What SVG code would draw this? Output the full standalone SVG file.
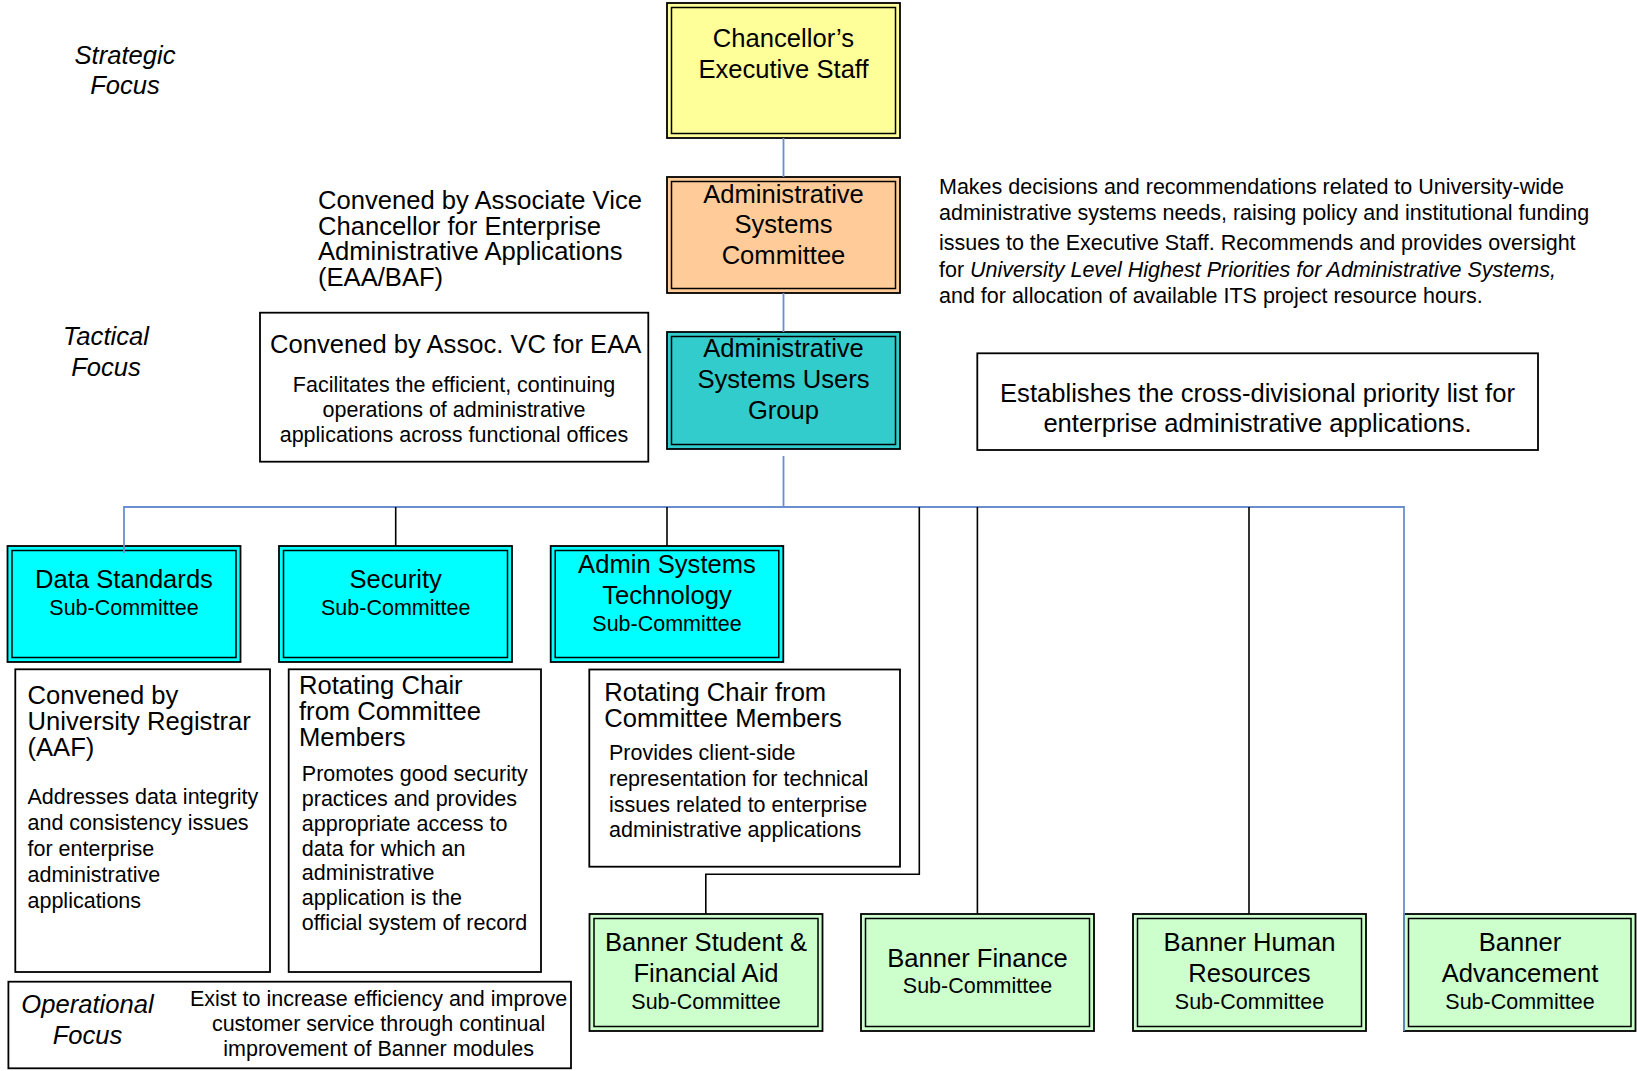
<svg xmlns="http://www.w3.org/2000/svg" width="1637" height="1071" viewBox="0 0 1637 1071">
<style>
.bx{stroke:#000;stroke-width:1.8}
.in{fill:none;stroke:#000;stroke-width:1.5}
.desc{fill:#fff;stroke:#000;stroke-width:1.8}
text{font-family:"Liberation Sans",Arial,sans-serif;fill:#000}
.b{font-size:25.6px}
.s{font-size:21.5px}
.c{text-anchor:middle}
.i{font-style:italic}
.blue{stroke:#6B8FCE;stroke-width:1.8;fill:none}
.blk{stroke:#000;stroke-width:1.6;fill:none}
.yel{fill:#FFFF99}.org{fill:#FFCC99}.teal{fill:#33CCCC}.cyan{fill:#00FFFF}.grn{fill:#CCFFCC}
</style>
<rect width="1637" height="1071" fill="#fff"/>

<g id="label-strategic">
<text class="b i c" x="125" y="63.5">Strategic</text>
<text class="b i c" x="125" y="94">Focus</text>
</g>
<g id="label-tactical">
<text class="b i c" x="106" y="345">Tactical</text>
<text class="b i c" x="106" y="375.5">Focus</text>
</g>

<g id="chancellor">
<rect class="bx yel" x="667" y="3" width="233" height="135"/>
<rect class="in" x="671.5" y="7.5" width="224" height="126"/>
<text class="b c" x="783.5" y="46.7">Chancellor’s</text>
<text class="b c" x="783.5" y="78">Executive Staff</text>
</g>

<g id="asc">
<rect class="bx org" x="667" y="177" width="233" height="116"/>
<rect class="in" x="671.5" y="181.5" width="224" height="107"/>
<text class="b c" x="783.5" y="202.5">Administrative</text>
<text class="b c" x="783.5" y="233">Systems</text>
<text class="b c" x="783.5" y="264">Committee</text>
</g>

<g id="asc-note">
<text class="b" x="318" y="209">Convened by Associate Vice</text>
<text class="b" x="318" y="234.5">Chancellor for Enterprise</text>
<text class="b" x="318" y="260">Administrative Applications</text>
<text class="b" x="318" y="285.5">(EAA/BAF)</text>
</g>

<g id="asc-desc">
<text class="s" x="939" y="194">Makes decisions and recommendations related to University-wide</text>
<text class="s" x="939" y="220">administrative systems needs, raising policy and institutional funding</text>
<text class="s" x="939" y="249.5">issues to the Executive Staff. Recommends and provides oversight</text>
<text class="s" x="939" y="276.7">for <tspan class="i">University Level Highest Priorities for Administrative Systems,</tspan></text>
<text class="s" x="939" y="302.5">and for allocation of available ITS project resource hours.</text>
</g>

<g id="users-group">
<rect class="bx teal" x="667" y="332" width="233" height="117"/>
<rect class="in" x="671.5" y="336.5" width="224" height="108"/>
<text class="b c" x="783.5" y="357">Administrative</text>
<text class="b c" x="783.5" y="388">Systems Users</text>
<text class="b c" x="783.5" y="418.5">Group</text>
</g>

<g id="users-note">
<rect class="desc" x="260" y="312.7" width="388.3" height="149"/>
<text class="b" x="270" y="353">Convened by Assoc. VC for EAA</text>
<text class="s c" x="454" y="391.5">Facilitates the efficient, continuing</text>
<text class="s c" x="454" y="416.5">operations of administrative</text>
<text class="s c" x="454" y="442">applications across functional offices</text>
</g>

<g id="users-desc">
<rect class="desc" x="977.3" y="353.3" width="560.7" height="96.7"/>
<text class="b c" x="1257.5" y="402">Establishes the cross-divisional priority list for</text>
<text class="b c" x="1257.5" y="432">enterprise administrative applications.</text>
</g>

<g id="data-standards">
<rect class="bx cyan" x="7.5" y="546" width="233" height="116"/>
<rect class="in" x="12" y="550.5" width="224" height="107"/>
<text class="b c" x="124" y="588">Data Standards</text>
<text class="s c" x="124" y="615">Sub-Committee</text>
</g>
<g id="data-standards-desc">
<rect class="desc" x="15.3" y="669.3" width="254.7" height="302.7"/>
<text class="b" x="27.5" y="704">Convened by</text>
<text class="b" x="27.5" y="730">University Registrar</text>
<text class="b" x="27.5" y="756">(AAF)</text>
<text class="s" x="27.5" y="804">Addresses data integrity</text>
<text class="s" x="27.5" y="830">and consistency issues</text>
<text class="s" x="27.5" y="856">for enterprise</text>
<text class="s" x="27.5" y="882">administrative</text>
<text class="s" x="27.5" y="907.6">applications</text>
</g>

<g id="security">
<rect class="bx cyan" x="279" y="546" width="233" height="116"/>
<rect class="in" x="283.5" y="550.5" width="224" height="107"/>
<text class="b c" x="395.7" y="588">Security</text>
<text class="s c" x="395.7" y="615">Sub-Committee</text>
</g>
<g id="security-desc">
<rect class="desc" x="288.7" y="669.3" width="252.3" height="302.7"/>
<text class="b" x="299" y="693.8">Rotating Chair</text>
<text class="b" x="299" y="719.7">from Committee</text>
<text class="b" x="299" y="745.5">Members</text>
<text class="s" x="301.8" y="781">Promotes good security</text>
<text class="s" x="301.8" y="806">practices and provides</text>
<text class="s" x="301.8" y="831">appropriate access to</text>
<text class="s" x="301.8" y="855.5">data for which an</text>
<text class="s" x="301.8" y="880">administrative</text>
<text class="s" x="301.8" y="905">application is the</text>
<text class="s" x="301.8" y="930">official system of record</text>
</g>

<g id="admin-tech">
<rect class="bx cyan" x="550.7" y="546" width="232.6" height="116"/>
<rect class="in" x="555.2" y="550.5" width="223.6" height="107"/>
<text class="b c" x="667" y="573">Admin Systems</text>
<text class="b c" x="667" y="604">Technology</text>
<text class="s c" x="667" y="630.7">Sub-Committee</text>
</g>
<g id="admin-tech-desc">
<rect class="desc" x="589.3" y="669.5" width="310.7" height="197.2"/>
<text class="b" x="604.3" y="700.7">Rotating Chair from</text>
<text class="b" x="604.3" y="726.6">Committee Members</text>
<text class="s" x="609" y="760">Provides client-side</text>
<text class="s" x="609" y="786">representation for technical</text>
<text class="s" x="609" y="811.5">issues related to enterprise</text>
<text class="s" x="609" y="836.7">administrative applications</text>
</g>

<g id="operational">
<rect class="desc" x="8.4" y="981.7" width="562.6" height="86.6"/>
<text class="b i c" x="87.5" y="1012.8">Operational</text>
<text class="b i c" x="87.5" y="1043.8">Focus</text>
<text class="s c" x="378.6" y="1005.9">Exist to increase efficiency and improve</text>
<text class="s c" x="378.6" y="1030.5">customer service through continual</text>
<text class="s c" x="378.6" y="1055.9">improvement of Banner modules</text>
</g>

<g id="banner-student">
<rect class="bx grn" x="589.5" y="914" width="233" height="117"/>
<rect class="in" x="594" y="918.5" width="224" height="108"/>
<text class="b c" x="706" y="951">Banner Student &amp;</text>
<text class="b c" x="706" y="982.3">Financial Aid</text>
<text class="s c" x="706" y="1009.3">Sub-Committee</text>
</g>
<g id="banner-finance">
<rect class="bx grn" x="861" y="914" width="233" height="117"/>
<rect class="in" x="865.5" y="918.5" width="224" height="108"/>
<text class="b c" x="977.5" y="966.7">Banner Finance</text>
<text class="s c" x="977.5" y="993.3">Sub-Committee</text>
</g>
<g id="banner-hr">
<rect class="bx grn" x="1133" y="914" width="233" height="117"/>
<rect class="in" x="1137.5" y="918.5" width="224" height="108"/>
<text class="b c" x="1249.5" y="951">Banner Human</text>
<text class="b c" x="1249.5" y="982.3">Resources</text>
<text class="s c" x="1249.5" y="1009.3">Sub-Committee</text>
</g>
<g id="banner-advancement">
<rect class="bx grn" x="1404" y="914" width="231.5" height="117"/>
<rect class="in" x="1408.5" y="918.5" width="222.5" height="108"/>
<text class="b c" x="1520" y="951">Banner</text>
<text class="b c" x="1520" y="982.3">Advancement</text>
<text class="s c" x="1520" y="1009.3">Sub-Committee</text>
</g>

<g id="connectors">
<line class="blue" x1="783.5" y1="138" x2="783.5" y2="177"/>
<line class="blue" x1="783.5" y1="293" x2="783.5" y2="332"/>
<line class="blue" x1="783.5" y1="456" x2="783.5" y2="507"/>
<polyline class="blue" points="124,553 124,507 1404,507 1404,1031"/>
<line class="blk" x1="395.7" y1="507" x2="395.7" y2="546"/>
<line class="blk" x1="667" y1="507" x2="667" y2="546"/>
<polyline class="blk" points="919.3,507 919.3,874.3 705.8,874.3 705.8,914"/>
<line class="blk" x1="977.4" y1="507" x2="977.4" y2="914"/>
<line class="blk" x1="1249" y1="507" x2="1249" y2="914"/>
</g>
</svg>
